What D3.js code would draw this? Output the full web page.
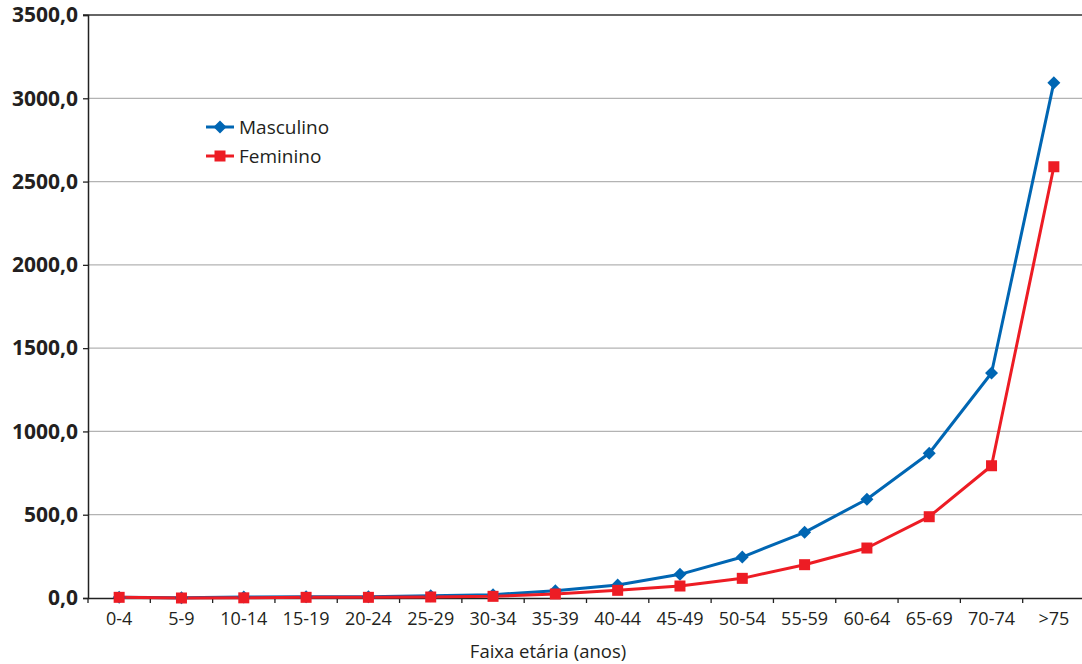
<!DOCTYPE html>
<html><head><meta charset="utf-8">
<script src="https://cdn.jsdelivr.net/npm/d3@7"></script>
<style>body{margin:0;background:#fff}svg{display:block}</style>
</head><body>
<svg id="c" width="1082" height="664"></svg>
<script>
const categories = ["0-4","5-9","10-14","15-19","20-24","25-29","30-34","35-39","40-44","45-49","50-54","55-59","60-64","65-69","70-74",">75"];
const masculino = [5,2,6,7,8,13,20,44,78,142,246,394,593,869,1351,3094];
const feminino  = [4,0,1,4,4,6,10,24,46,72,118,200,300,488,794,2589];
const yTicks = [0,500,1000,1500,2000,2500,3000,3500];
const seriesNames = ["Masculino","Feminino"];
const xTitle = "Faixa etária (anos)";

(function(){
const svg = d3.select("#c");
const mL = 88, mR = 1085, mT = 15, mB = 598;
const x = d3.scaleBand().domain(categories).range([mL, mR]);
const y = d3.scaleLinear().domain([0,3500]).range([mB, mT]);
const fmt = v => d3.format(".1f")(v).replace(".", ",");
const font = "'Open Sans', sans-serif";

svg.append("g").selectAll("line").data(yTicks.filter(d => d > 0 && d < 3500)).join("line")
  .attr("x1", mL).attr("x2", 1082).attr("y1", d => y(d)).attr("y2", d => y(d))
  .attr("stroke", "#b3b3b3").attr("stroke-width", 1.3);
svg.append("line").attr("x1", mL - 5).attr("x2", 1082).attr("y1", y(3500)).attr("y2", y(3500))
  .attr("stroke", "#333").attr("stroke-width", 1.3);

const ya = svg.append("g").attr("transform", `translate(${mL},0)`)
  .call(d3.axisLeft(y).tickValues(yTicks).tickFormat(fmt).tickSize(5).tickPadding(5));
ya.select(".domain").attr("stroke", "#222").attr("stroke-width", 1.5);
ya.selectAll(".tick line").attr("stroke", "#222").attr("stroke-width", 1.3);
ya.selectAll("text").attr("font-family", font).attr("font-weight", 700).attr("font-size", 21).attr("fill", "#231f20");

const xa = svg.append("g").attr("transform", `translate(0,${mB})`)
  .call(d3.axisBottom(x).tickSize(0).tickPadding(14));
xa.select(".domain").attr("stroke", "#222").attr("stroke-width", 1.5);
xa.selectAll("text").attr("font-family", font).attr("font-size", 18).attr("fill", "#231f20");
xa.append("g").selectAll("line").data(categories).join("line")
  .attr("x1", d => x(d)).attr("x2", d => x(d)).attr("y1", 0).attr("y2", 5)
  .attr("stroke", "#222").attr("stroke-width", 1.3);

svg.append("text").attr("x", 548).attr("y", 658).attr("text-anchor", "middle")
  .attr("font-family", font).attr("font-size", 18.5).attr("fill", "#231f20").text(xTitle);

const cx = d => x(d) + x.bandwidth()/2;
const line = d3.line().x(d => cx(d.c)).y(d => y(d.v));
const colors = ["#0066b3", "#ed1c24"];
const data = [masculino, feminino].map(arr => categories.map((c,i) => ({c, v: arr[i]})));

data.forEach((s, i) => {
  svg.append("path").datum(s).attr("d", line).attr("fill", "none")
    .attr("stroke", colors[i]).attr("stroke-width", 3).attr("stroke-linejoin", "round");
});
const dPath = "M0,-6.5L6.5,0L0,6.5L-6.5,0Z";
svg.append("g").selectAll("path").data(data[0]).join("path")
  .attr("d", dPath).attr("transform", d => `translate(${cx(d.c)},${y(d.v)})`).attr("fill", colors[0]);
svg.append("g").selectAll("rect").data(data[1]).join("rect")
  .attr("x", d => cx(d.c) - 5.5).attr("y", d => y(d.v) - 5.5).attr("width", 11).attr("height", 11).attr("fill", colors[1]);

const lg = svg.append("g");
const ly = [127, 156];
seriesNames.forEach((n, i) => {
  lg.append("line").attr("x1", 206).attr("x2", 234).attr("y1", ly[i]).attr("y2", ly[i])
    .attr("stroke", colors[i]).attr("stroke-width", 3);
  if (i === 0) lg.append("path").attr("d", dPath).attr("transform", `translate(220,${ly[i]})`).attr("fill", colors[0]);
  else lg.append("rect").attr("x", 214.5).attr("y", ly[i]-5.5).attr("width", 11).attr("height", 11).attr("fill", colors[1]);
  lg.append("text").attr("x", 239).attr("y", ly[i]).attr("dy", "0.35em")
    .attr("font-family", font).attr("font-size", 19).attr("fill", "#231f20").text(n);
});
})();
</script>
</body></html>
